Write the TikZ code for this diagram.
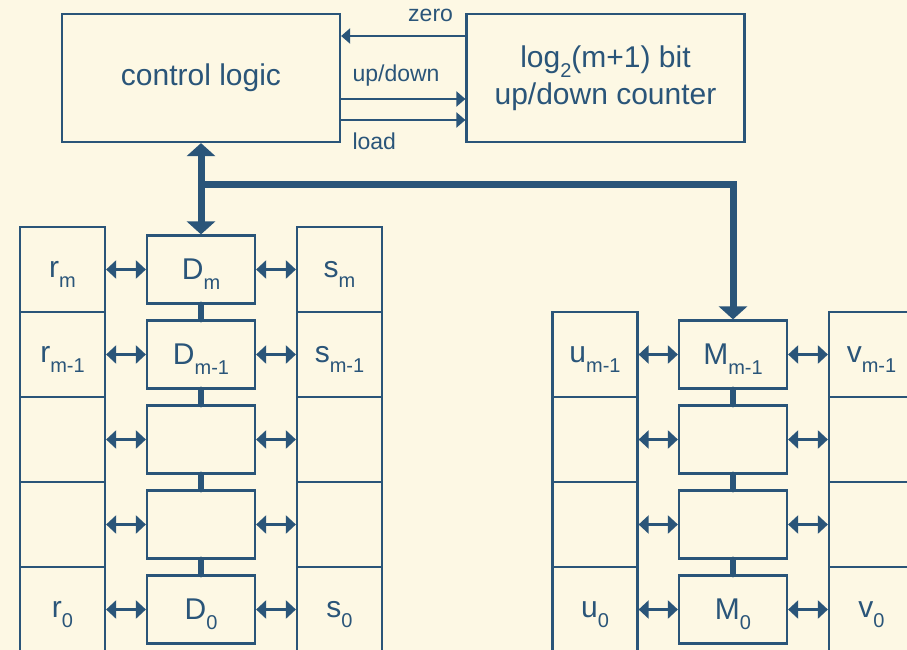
\documentclass[tikz,border=0pt]{standalone}
\usepackage{fontspec}
\setmainfont{Liberation Sans}
\usetikzlibrary{arrows.meta}
\definecolor{ink}{HTML}{2A5579}
\definecolor{paper}{HTML}{FDF8E4}
\newcommand{\idx}[1]{\raisebox{-10pt}[0pt][0pt]{\fontsize{20}{24}\selectfont #1}}

\begin{document}
\begin{tikzpicture}[x=1pt,y=-1pt,
    font=\fontsize{30}{37}\selectfont, text=ink,
    bigbox/.style={draw=ink,line width=2.2pt,minimum width=278pt,minimum height=128pt,inner sep=0pt},
    reg/.style={draw=ink,line width=2.2pt,minimum width=85pt,minimum height=85pt,inner sep=0pt},
    cell/.style={draw=ink,line width=2.2pt,minimum width=108pt,minimum height=68pt,inner sep=0pt},
    xfer/.style={draw=ink,line width=2.2pt,{Triangle[length=10pt,width=18pt]}-{Triangle[length=10pt,width=18pt]}},
    signal/.style={draw=ink,line width=2.2pt,-{Triangle[length=9pt,width=15pt]}},
    tag/.style={font=\fontsize{23}{26}\selectfont},
    bus/.style={draw=ink,line width=7pt},
    chain/.style={draw=ink,line width=6pt,line cap=round}]
  \useasboundingbox (0,0) rectangle (907,650);
  \fill[paper] (0,0) rectangle (907,650);
  \clip (0,0) rectangle (907,650);

  % control part
  \node[bigbox] (ctrl) at (201,78) {control logic};
  \node[bigbox,align=center] (cnt) at (605.5,78) {log\idx{2}(m+1) bit\\up/down counter};
  \draw[signal] (cnt.west |- 0,36) -- (ctrl.east |- 0,36) node[tag,pos=0.28,above=10pt] {zero};
  \draw[signal] (ctrl.east |- 0,99) -- (cnt.west |- 0,99) node[tag,pos=0,anchor=south west,xshift=7pt,yshift=8.7pt] {up/down};
  \draw[signal] (ctrl.east |- 0,120) -- (cnt.west |- 0,120) node[tag,pos=0,anchor=north west,xshift=7pt,yshift=-8.7pt] {load};

  % D registers with r and s
  \foreach \k/\r/\d/\s in {0/r\idx{m}/D\idx{m}/s\idx{m},1/r\idx{m-1}/D\idx{m-1}/s\idx{m-1},2///,3///,4/r\idx{0}/D\idx{0}/s\idx{0}} {
    \node[reg] (r\k) at (62.5,{269.5+85*\k}) {\r};
    \node[cell] (d\k) at (201,{269.5+85*\k}) {\d};
    \node[reg] (s\k) at (339.5,{269.5+85*\k}) {\s};
    \draw[xfer] (r\k) -- (d\k);
    \draw[xfer] (d\k) -- (s\k);
  }
  \foreach \k in {0,...,3} {
    \pgfmathtruncatemacro\n{\k+1}
    \draw[chain] (d\k.south) -- (d\n.north);
  }

  % M registers with u and v
  \foreach \k/\u/\m/\v in {1/u\idx{m-1}/M\idx{m-1}/v\idx{m-1},2///,3///,4/u\idx{0}/M\idx{0}/v\idx{0}} {
    \node[reg] (u\k) at (595,{269.5+85*\k}) {\u};
    \node[cell] (m\k) at (733,{269.5+85*\k}) {\m};
    \node[reg] (v\k) at (871.5,{269.5+85*\k}) {\v};
    \draw[xfer] (u\k) -- (m\k);
    \draw[xfer] (m\k) -- (v\k);
  }
  \foreach \k in {1,...,3} {
    \pgfmathtruncatemacro\n{\k+1}
    \draw[chain] (m\k.south) -- (m\n.north);
  }

  % bus
  \coordinate (tap) at (ctrl.south |- 0,184);
  \draw[bus,{Triangle[length=13pt,width=28pt]}-{Triangle[length=13pt,width=28pt]}] (ctrl.south) -- (d0.north);
  \draw[bus,-{Triangle[length=13pt,width=28pt]}] (tap) -| (m1.north);
\end{tikzpicture}
\end{document}
